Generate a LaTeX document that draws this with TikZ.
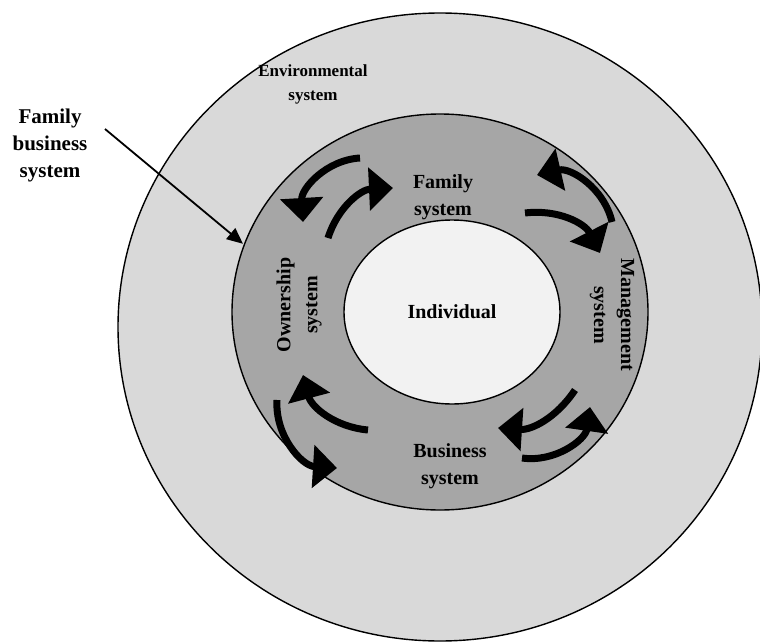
\documentclass[tikz,border=0pt]{standalone}
\usepackage{fontspec}
\setmainfont{Liberation Serif}
\usetikzlibrary{arrows.meta,positioning,shapes.geometric}
\definecolor{envgray}{HTML}{D9D9D9}
\definecolor{fbsgray}{HTML}{A6A6A6}
\definecolor{indgray}{HTML}{F2F2F2}
\tikzset{
  ring/.style={ellipse,draw=black,line width=1.4pt,inner sep=0pt},
  lbl/.style={font=\fontsize{20}{27}\selectfont\bfseries,align=center,inner sep=0pt},
  cyclearrow/.style={-{Triangle[length=24pt,width=42pt]},line width=7pt},
  ptr/.style={-{Triangle[length=16pt,width=14pt]},line width=1.8pt},
}

\begin{document}
\begin{tikzpicture}[x=1pt,y=-1pt]
\useasboundingbox (0,0) rectangle (760,642);
\clip (0,0) rectangle (760,642);
% the three nested systems
\node[ring,fill=envgray,minimum width=644pt,minimum height=628pt] (env) at (440,327) {};
\node[ring,fill=fbsgray,minimum width=416pt,minimum height=396pt] (fbs) at (440,312) {};
\node[ring,lbl,fill=indgray,minimum width=216pt,minimum height=184pt] (ind) at (452,312) {Individual};
% labels
\node[lbl,font=\fontsize{17}{24}\selectfont\bfseries] (envlbl) at (313,84) {Environmental\\system};
\node[lbl,font=\fontsize{21}{27}\selectfont\bfseries] (fbslbl) at (50,145) {Family\\business\\system};
\node[lbl] (fam) at (443,197) {Family\\system};
\node[lbl] (bus) at (450,466) {Business\\system};
\node[lbl,rotate=90] (own) at (299,305) {Ownership\\system};
\node[lbl,rotate=-90] (mgt) at (612,315) {Management\\system};
% pointer to the family business ring
\coordinate (fbstail) at (105,129);
\draw[ptr,shorten >=1pt] (fbstail) -- (fbs.161);
% exchange arrows between the subsystems
\foreach \sx/\sy/\tx/\ty/\b in {360/158/303/222/-45, 328/238/393/188/35,
    612/222/537/175/-45, 525/213/600/253/35, 368/430/303/375/35,
    277/400/337/468/-45, 575/390/498/428/30, 522/458/590/407/-45}
  \draw[cyclearrow] (\sx,\sy) to[bend left=\b] (\tx,\ty);
\end{tikzpicture}
\end{document}
